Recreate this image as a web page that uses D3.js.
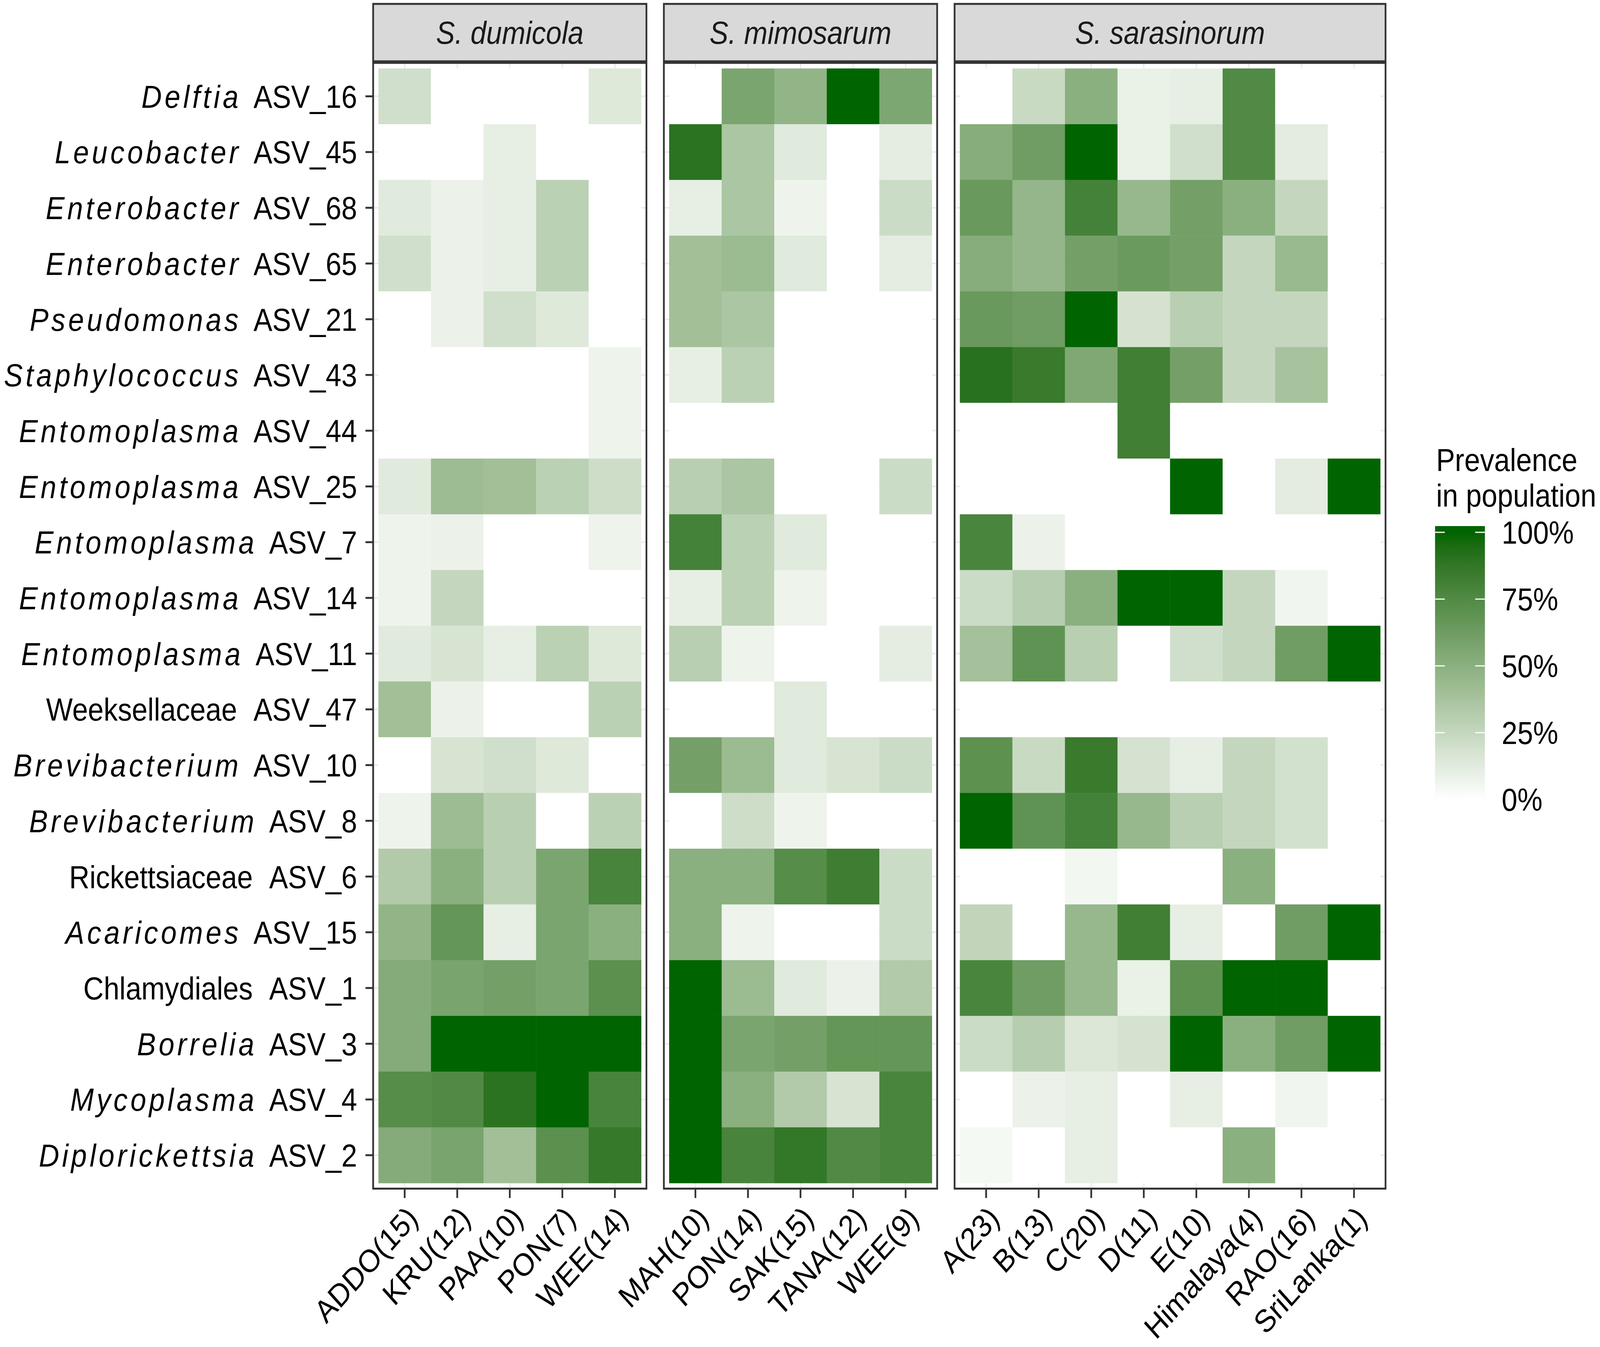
<!DOCTYPE html>
<html>
<head>
<meta charset="utf-8">
<script src="https://cdn.jsdelivr.net/npm/d3@7"></script>
<style>
  html, body { margin: 0; padding: 0; width: 100%; height: 100%; overflow: hidden; background: #fff; }
  svg { display: block; width: 100vw; height: 100vh; font-family: 'Liberation Sans', Arial, Helvetica, sans-serif; }
</style>
</head>
<body>
<svg id="heat" viewBox="0 0 4588 3449" preserveAspectRatio="none"></svg>
<script>
// ===== data =====
var taxa = ['Delftia', 'Leucobacter', 'Enterobacter', 'Enterobacter', 'Pseudomonas', 'Staphylococcus',
  'Entomoplasma', 'Entomoplasma', 'Entomoplasma', 'Entomoplasma', 'Entomoplasma', 'Weeksellaceae',
  'Brevibacterium', 'Brevibacterium', 'Rickettsiaceae', 'Acaricomes', 'Chlamydiales', 'Borrelia',
  'Mycoplasma', 'Diplorickettsia']
var asvs = ['ASV_16', 'ASV_45', 'ASV_68', 'ASV_65', 'ASV_21', 'ASV_43', 'ASV_44', 'ASV_25', 'ASV_7',
  'ASV_14', 'ASV_11', 'ASV_47', 'ASV_10', 'ASV_8', 'ASV_6', 'ASV_15', 'ASV_1', 'ASV_3', 'ASV_4', 'ASV_2']
// genus names are italic, family/order names are not
var italicTaxa = [true, true, true, true, true, true, true, true, true, true, true, false,
  true, true, false, true, false, true, true, true]

var species = ['S. dumicola', 'S. mimosarum', 'S. sarasinorum']

var dumicolaPops = ['ADDO(15)', 'KRU(12)', 'PAA(10)', 'PON(7)', 'WEE(14)']
var mimosarumPops = ['MAH(10)', 'PON(14)', 'SAK(15)', 'TANA(12)', 'WEE(9)']
var sarasinorumPops = ['A(23)', 'B(13)', 'C(20)', 'D(11)', 'E(10)', 'Himalaya(4)', 'RAO(16)', 'SriLanka(1)']

// prevalence (0-1), one row per ASV in the order above
var dumicolaPrev = [
  [0.20, 0, 0, 0, 0.14],
  [0, 0, 0.10, 0, 0],
  [0.13, 0.08, 0.10, 0.29, 0],
  [0.20, 0.08, 0.10, 0.29, 0],
  [0, 0.08, 0.20, 0.14, 0],
  [0, 0, 0, 0, 0.07],
  [0, 0, 0, 0, 0.07],
  [0.13, 0.42, 0.40, 0.29, 0.21],
  [0.07, 0.08, 0, 0, 0.07],
  [0.07, 0.25, 0, 0, 0],
  [0.13, 0.17, 0.10, 0.29, 0.14],
  [0.40, 0.08, 0, 0, 0.29],
  [0, 0.17, 0.20, 0.14, 0],
  [0.07, 0.42, 0.30, 0, 0.29],
  [0.33, 0.50, 0.30, 0.57, 0.79],
  [0.47, 0.67, 0.10, 0.57, 0.50],
  [0.53, 0.58, 0.60, 0.57, 0.71],
  [0.53, 1, 1, 1, 1],
  [0.73, 0.75, 0.90, 1, 0.79],
  [0.53, 0.58, 0.40, 0.71, 0.86]
]
var mimosarumPrev = [
  [0, 0.57, 0.47, 1, 0.56],
  [0.90, 0.36, 0.13, 0, 0.11],
  [0.10, 0.36, 0.07, 0, 0.22],
  [0.40, 0.43, 0.13, 0, 0.11],
  [0.40, 0.36, 0, 0, 0],
  [0.10, 0.29, 0, 0, 0],
  [0, 0, 0, 0, 0],
  [0.30, 0.36, 0, 0, 0.22],
  [0.80, 0.29, 0.13, 0, 0],
  [0.10, 0.29, 0.07, 0, 0],
  [0.30, 0.07, 0, 0, 0.11],
  [0, 0, 0.13, 0, 0],
  [0.60, 0.43, 0.13, 0.17, 0.22],
  [0, 0.21, 0.07, 0, 0],
  [0.50, 0.50, 0.73, 0.83, 0.22],
  [0.50, 0.07, 0, 0, 0.22],
  [1, 0.43, 0.13, 0.08, 0.33],
  [1, 0.57, 0.60, 0.67, 0.67],
  [1, 0.50, 0.33, 0.17, 0.78],
  [1, 0.79, 0.87, 0.75, 0.78]
]
var sarasinorumPrev = [
  [0, 0.23, 0.50, 0.09, 0.10, 0.75, 0, 0],
  [0.52, 0.62, 1, 0.09, 0.20, 0.75, 0.12, 0],
  [0.65, 0.46, 0.80, 0.45, 0.60, 0.50, 0.25, 0],
  [0.52, 0.46, 0.60, 0.64, 0.60, 0.25, 0.44, 0],
  [0.65, 0.62, 1, 0.18, 0.30, 0.25, 0.25, 0],
  [0.91, 0.85, 0.55, 0.82, 0.60, 0.25, 0.38, 0],
  [0, 0, 0, 0.82, 0, 0, 0, 0],
  [0, 0, 0, 0, 1, 0, 0.12, 1],
  [0.78, 0.08, 0, 0, 0, 0, 0, 0],
  [0.22, 0.31, 0.50, 1, 1, 0.25, 0.06, 0],
  [0.39, 0.69, 0.30, 0, 0.20, 0.25, 0.62, 1],
  [0, 0, 0, 0, 0, 0, 0, 0],
  [0.70, 0.23, 0.85, 0.18, 0.10, 0.25, 0.19, 0],
  [1, 0.69, 0.80, 0.45, 0.30, 0.25, 0.19, 0],
  [0, 0, 0.05, 0, 0, 0.50, 0, 0],
  [0.26, 0, 0.45, 0.82, 0.10, 0, 0.62, 1],
  [0.78, 0.62, 0.45, 0.09, 0.70, 1, 1, 0],
  [0.22, 0.31, 0.15, 0.18, 1, 0.50, 0.62, 1],
  [0, 0.08, 0.10, 0, 0.10, 0, 0.06, 0],
  [0.04, 0, 0.10, 0, 0, 0.50, 0, 0]
]

var legendTicks = [0, 0.25, 0.5, 0.75, 1]

// ===== layout =====
var svg = d3.select('#heat')
svg.append('rect').attr('width', 4588).attr('height', 3449).attr('fill', '#fff')

var fontSize = 81
var panelTop = 161
var panelBottom = 3043.5
var stripTop = 10
var stripBottom = 157
var unit = 150.7 // width of one population column
var gap = 50
var left = 1070

var panels = [
  { name: species[0], pops: dumicolaPops, prev: dumicolaPrev },
  { name: species[1], pops: mimosarumPops, prev: mimosarumPrev },
  { name: species[2], pops: sarasinorumPops, prev: sarasinorumPrev }
]
var cursor = left
panels.forEach(function (p) {
  p.x0 = cursor
  p.x1 = cursor + (p.pops.length + 0.2) * unit
  cursor = p.x1 + gap
})

var rowKeys = asvs.map(function (a, i) { return i })
var y = d3.scaleBand().domain(rowKeys).range([panelTop, panelBottom]).paddingInner(0).paddingOuter(0.1)

var color = d3.scaleLinear().domain([0, 1]).range(['#FFFFFF', '#006400']).interpolate(d3.interpolateLab)

panels.forEach(function (p) {
  var x = d3.scaleBand().domain(p.pops).range([p.x0, p.x1]).paddingInner(0).paddingOuter(0.1)
  var g = svg.append('g')

  // grid lines (theme_bw style, mostly hidden under tiles)
  g.selectAll('.vgrid').data(p.pops).enter().append('line')
    .attr('x1', function (d) { return x(d) + x.bandwidth() / 2 })
    .attr('x2', function (d) { return x(d) + x.bandwidth() / 2 })
    .attr('y1', panelTop).attr('y2', panelBottom)
    .attr('stroke', '#EBEBEB').attr('stroke-width', 4)
  g.selectAll('.hgrid').data(rowKeys).enter().append('line')
    .attr('y1', function (d) { return y(d) + y.bandwidth() / 2 })
    .attr('y2', function (d) { return y(d) + y.bandwidth() / 2 })
    .attr('x1', p.x0).attr('x2', p.x1)
    .attr('stroke', '#EBEBEB').attr('stroke-width', 4)

  // tiles
  var cells = []
  p.prev.forEach(function (row, ri) {
    row.forEach(function (v, ci) {
      cells.push({ row: ri, pop: p.pops[ci], value: v })
    })
  })
  g.selectAll('.tile').data(cells).enter().append('rect')
    .attr('x', function (d) { return x(d.pop) })
    .attr('y', function (d) { return y(d.row) })
    .attr('width', x.bandwidth() + 0.5)
    .attr('height', y.bandwidth() + 0.5)
    .attr('fill', function (d) { return color(d.value) })

  // panel border
  g.append('rect')
    .attr('x', p.x0).attr('y', panelTop)
    .attr('width', p.x1 - p.x0).attr('height', panelBottom - panelTop)
    .attr('fill', 'none').attr('stroke', '#333333').attr('stroke-width', 5)

  // strip
  g.append('rect')
    .attr('x', p.x0).attr('y', stripTop)
    .attr('width', p.x1 - p.x0).attr('height', stripBottom - stripTop)
    .attr('fill', '#D9D9D9').attr('stroke', '#333333').attr('stroke-width', 5)
  g.append('text')
    .attr('x', (p.x0 + p.x1) / 2)
    .attr('y', (stripTop + stripBottom) / 2 + 29)
    .attr('text-anchor', 'middle')
    .attr('font-size', fontSize)
    .attr('font-style', 'italic')
    .attr('fill', '#1A1A1A')
    .text(p.name)

  // x axis
  var xAxis = svg.append('g')
    .attr('transform', 'translate(0,' + panelBottom + ')')
    .call(d3.axisBottom(x).tickSize(24).tickSizeOuter(0))
  xAxis.select('.domain').remove()
  xAxis.selectAll('line').attr('stroke', '#333333').attr('stroke-width', 5)
  xAxis.selectAll('text')
    .attr('x', 0).attr('y', 0).attr('dy', '0.74em')
    .attr('transform', 'translate(0,38) rotate(-45)')
    .attr('text-anchor', 'end')
    .attr('font-size', fontSize)
    .attr('font-family', "'Liberation Sans', Arial, sans-serif")
    .attr('fill', '#000')
})

// y axis with mixed italic labels
var yAxis = svg.append('g')
  .attr('transform', 'translate(' + left + ',0)')
  .call(d3.axisLeft(y).tickSize(22).tickPadding(24).tickSizeOuter(0).tickFormat(''))
yAxis.select('.domain').remove()
yAxis.selectAll('line').attr('stroke', '#333333').attr('stroke-width', 5)
yAxis.selectAll('text').each(function (d) {
  var t = d3.select(this)
    .attr('font-size', fontSize)
    .attr('font-family', "'Liberation Sans', Arial, sans-serif")
    .attr('fill', '#000')
    .attr('dy', '0.36em')
  if (italicTaxa[d]) {
    t.append('tspan').attr('font-style', 'italic').attr('letter-spacing', '0.1em').text(taxa[d])
    t.append('tspan').attr('dx', 35).text(asvs[d])
  } else {
    t.append('tspan').text(taxa[d])
    t.append('tspan').attr('dx', 47).text(asvs[d])
  }
})

// ===== legend =====
var legX = 4115
var barW = 143
var legY = d3.scaleLinear().domain([0, 1]).range([2047, 1363])
var barTop = 1347
var barBottom = 2063

var grad = svg.append('defs').append('linearGradient')
  .attr('id', 'prevGrad')
  .attr('x1', 0).attr('y1', 1).attr('x2', 0).attr('y2', 0)
d3.range(0, 1.0001, 0.05).forEach(function (v) {
  var yy = legY(v)
  grad.append('stop')
    .attr('offset', (barBottom - yy) / (barBottom - barTop))
    .attr('stop-color', color(v))
})
svg.append('rect')
  .attr('x', legX).attr('y', barTop)
  .attr('width', barW).attr('height', barBottom - barTop)
  .attr('fill', 'url(#prevGrad)')

svg.selectAll('.legtickL').data(legendTicks).enter().append('line')
  .attr('x1', legX).attr('x2', legX + 28)
  .attr('y1', function (d) { return legY(d) }).attr('y2', function (d) { return legY(d) })
  .attr('stroke', '#fff').attr('stroke-width', 3)
svg.selectAll('.legtickR').data(legendTicks).enter().append('line')
  .attr('x1', legX + barW - 28).attr('x2', legX + barW)
  .attr('y1', function (d) { return legY(d) }).attr('y2', function (d) { return legY(d) })
  .attr('stroke', '#fff').attr('stroke-width', 3)
svg.selectAll('.leglab').data(legendTicks).enter().append('text')
  .attr('x', 4306)
  .attr('y', function (d) { return legY(d) + 29 })
  .attr('font-size', fontSize)
  .attr('fill', '#000')
  .text(function (d) { return Math.round(d * 100) + '%' })

svg.append('text').attr('x', 4118).attr('y', 1206).attr('font-size', fontSize).attr('fill', '#000').text('Prevalence')
svg.append('text').attr('x', 4118).attr('y', 1297).attr('font-size', fontSize).attr('fill', '#000').text('in population')
</script>
</body>
</html>
